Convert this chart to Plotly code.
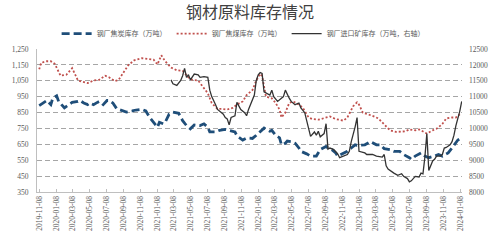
import pandas as pd
import plotly.graph_objects as go

START = "2019-11-08"
TITLE = "钢材原料库存情况"
NAMES = ["钢厂焦炭库存（万吨）", "钢厂焦煤库存（万吨）", "钢厂进口矿库存（万吨，右轴）"]

# weeks since 2019-11-08 and values
coke_weeks = [0, 2, 4, 6, 7, 9, 10, 13, 15, 17, 20, 21, 23, 25, 26, 28, 30, 31, 33, 35, 36, 38, 40, 43, 45, 48,
              50, 53, 55, 57, 59, 61, 62, 64, 65, 67, 69, 72, 74, 76, 78, 80, 83, 85, 87, 88, 91, 93, 96, 98,
              101, 102, 105, 107, 110, 112, 114, 116, 117, 119, 120, 122, 124, 125, 127, 128, 130, 132, 134,
              135, 138, 140, 143, 145, 148, 149, 151, 153, 154, 156, 158, 159, 161, 163, 164, 166, 168, 171,
              172, 174, 176, 178, 181, 183, 186, 188, 191, 192, 194, 196, 197, 199, 201, 204, 206, 208, 210,
              211, 213, 215, 216, 218]
coke_vals = [894, 910, 926, 900, 940, 955, 920, 880, 900, 914, 920, 926, 910, 900, 910, 900, 914, 920, 900, 926,
             926, 910, 874, 860, 853, 860, 866, 870, 860, 819, 789, 758, 789, 779, 789, 839, 853, 845, 799, 768,
             748, 772, 768, 779, 758, 728, 728, 738, 744, 738, 728, 704, 677, 690, 687, 707, 728, 752, 744, 732,
             738, 707, 691, 647, 657, 671, 667, 657, 627, 606, 590, 576, 576, 617, 637, 627, 617, 596, 576, 586,
             596, 606, 627, 647, 643, 647, 647, 667, 661, 647, 647, 623, 617, 606, 606, 586, 566, 556, 576, 586,
             596, 576, 566, 576, 586, 576, 586, 596, 627, 657, 677, 691]

coal_weeks = [0, 1, 4, 6, 8, 11, 14, 17, 20, 25, 28, 31, 34, 36, 39, 41, 46, 49, 53, 56, 59, 61, 63, 65, 68, 71,
              74, 77, 79, 82, 84, 87, 89, 92, 94, 97, 100, 102, 105, 107, 110, 112, 114, 115, 117, 120, 122, 124,
              125, 127, 129, 131, 134, 136, 139, 141, 144, 147, 150, 153, 157, 159, 162, 164, 165, 167, 170, 172,
              175, 178, 181, 184, 186, 189, 191, 194, 196, 199, 200, 203, 205, 208, 210, 213, 215, 217]
coal_vals = [1122, 1163, 1173, 1173, 1157, 1082, 1088, 1129, 1052, 1035, 1052, 1056, 1082, 1072, 1048, 1056, 1149,
             1179, 1192, 1189, 1183, 1153, 1210, 1173, 1133, 1116, 1112, 1072, 1056, 1052, 1021, 971, 910, 873, 873,
             869, 880, 900, 920, 960, 991, 1052, 1094, 1080, 950, 940, 910, 869, 819, 850, 910, 920, 900, 880, 819,
             809, 805, 813, 825, 809, 799, 819, 890, 914, 900, 849, 839, 829, 813, 778, 738, 728, 728, 732, 744,
             738, 744, 724, 718, 738, 748, 778, 813, 819, 819, 839]

ore_weeks = [68, 69, 71, 73, 74, 75, 76, 77, 78, 80, 82, 83, 85, 87, 88, 89, 91, 92, 95, 96, 97, 98, 99, 101, 102,
             103, 104, 106, 107, 108, 110, 111, 112, 113, 114, 115, 116, 117, 119, 120, 121, 123, 125, 126, 127,
             128, 129, 130, 132, 134, 135, 137, 138, 140, 142, 143, 144, 145, 147, 148, 149, 150, 152, 154, 155,
             157, 159, 160, 161, 163, 164, 165, 168, 169, 172, 174, 177, 178, 179, 180, 182, 183, 185, 187, 188,
             190, 191, 192, 194, 196, 197, 198, 199, 200, 201, 203, 204, 205, 207, 208, 209, 210, 212, 213, 214,
             215, 217, 218]
ore_vals = [11528, 11407, 11356, 11508, 11660, 11893, 11609, 11690, 11528, 11711, 11690, 11609, 11630, 11609, 11205,
            11002, 10749, 10597, 10446, 10344, 10300, 10112, 10344, 10395, 10820, 10699, 10597, 10496, 10400, 10600,
            10900, 11050, 11508, 11690, 11761, 11731, 11150, 11124, 11053, 11205, 11002, 10850, 10952, 11002, 11205,
            11053, 10952, 10850, 10749, 10800, 10648, 10496, 10243, 9750, 9889, 9788, 9909, 9737, 9838, 10150, 9350,
            9383, 9332, 9201, 9079, 9130, 9180, 9282, 9585, 10050, 10344, 9282, 9231, 9180, 9180, 9130, 9100, 9180,
            8826, 8725, 8624, 8594, 8523, 8574, 8493, 8422, 8320, 8351, 8493, 8473, 8594, 8574, 9100, 9838, 8675,
            8978, 9029, 9130, 9130, 9180, 9383, 9403, 9484, 9585, 9788, 10091, 10547, 10850]

left_ticks = [350, 450, 550, 650, 750, 850, 950, 1050, 1150, 1250]
right_ticks = [8000, 8500, 9000, 9500, 10000, 10500, 11000, 11500, 12000, 12500]
x_ticks = pd.date_range("2019-11-08", "2024-01-08", freq=pd.DateOffset(months=2))
x_ticktext = [d.strftime("%Y-%m-%d") for d in x_ticks]


def to_dates(weeks):
    return pd.Timestamp(START) + pd.to_timedelta([w * 7 for w in weeks], unit="D")


TICKFONT = dict(family="Liberation Serif", size=7.5, color="#595959")

fig = go.Figure()
fig.add_trace(go.Scatter(x=to_dates(coke_weeks), y=coke_vals, name=NAMES[0], mode="lines",
                         line=dict(color="#1f4e79", width=2.8, dash="8px,4px")))
fig.add_trace(go.Scatter(x=to_dates(coal_weeks), y=coal_vals, name=NAMES[1], mode="lines",
                         line=dict(color="#c0504d", width=1.8, dash="2px,2px")))
fig.add_trace(go.Scatter(x=to_dates(ore_weeks), y=ore_vals, name=NAMES[2], mode="lines", yaxis="y2",
                         line=dict(color="#333333", width=1.3)))

fig.update_layout(
    width=500, height=243,
    margin=dict(l=31, r=26, t=49, b=46),
    paper_bgcolor="white", plot_bgcolor="white",
    title=dict(text=TITLE, x=0.5, xanchor="center", y=0.947, yanchor="middle",
               font=dict(family="Noto Sans CJK SC", size=16, color="#404040")),
    legend=dict(orientation="h", x=0.485, xanchor="center", y=1.108, yanchor="middle",
                font=dict(family="Noto Sans CJK SC", size=7, color="#595959"),
                itemwidth=30, bgcolor="rgba(0,0,0,0)"),
    xaxis=dict(type="date", range=["2019-10-31", "2024-01-13"], tickvals=x_ticks, ticktext=x_ticktext,
               tickangle=-90, tickfont=TICKFONT, showgrid=False, showline=True, linecolor="#bfbfbf",
               linewidth=1, ticks="inside", ticklen=3, tickcolor="#bfbfbf", zeroline=False),
    yaxis=dict(range=[350, 1250], tickvals=left_ticks, tickformat=",", tickfont=TICKFONT,
               showgrid=True, gridcolor="#a6a6a6", gridwidth=1.2, griddash="5px,3px",
               showline=True, linecolor="#bfbfbf", linewidth=1, zeroline=False, ticks="",
               ticklabelstandoff=6),
    yaxis2=dict(range=[8000, 12500], tickvals=right_ticks, tickformat="d", tickfont=TICKFONT,
                overlaying="y", side="right", showgrid=False, showline=False, zeroline=False,
                ticklabelstandoff=6),
)

fig.write_html("out.html")
